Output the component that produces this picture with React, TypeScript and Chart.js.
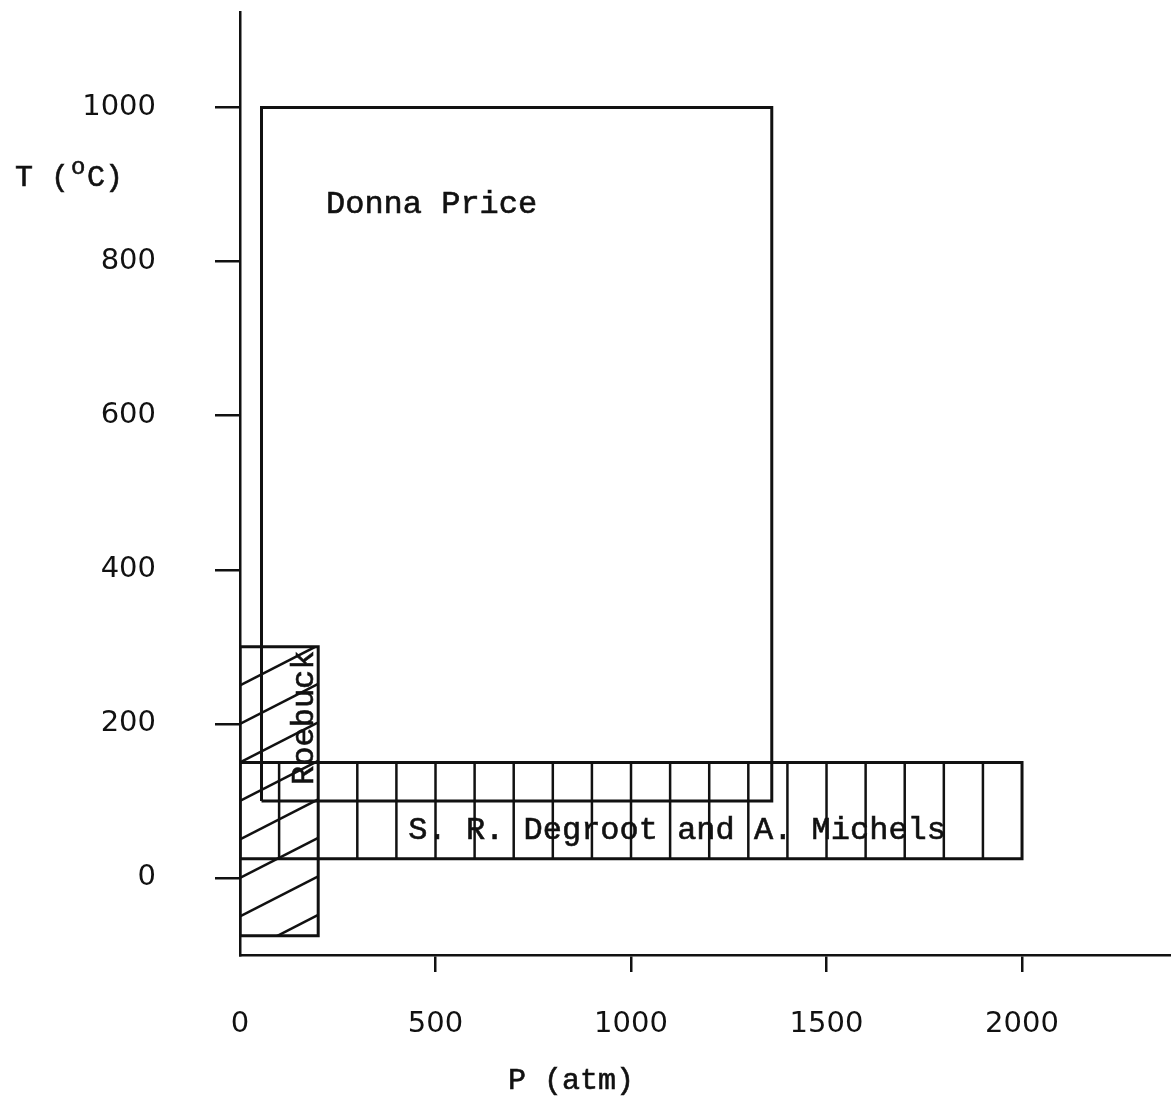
import React, { useEffect, useRef } from "react";
import { Chart, registerables } from "chart.js";

Chart.register(...registerables);

// ---- data ----
const pressureTicks = [0, 500, 1000, 1500, 2000]; // atm
const temperatureTicks = [0, 200, 400, 600, 800, 1000]; // °C

const studyNames = ["Donna Price", "Roebuck", "S. R. Degroot and A. Michels"];
const studyPMin = [55, 0, 0];
const studyPMax = [1360, 200, 2000];
const studyTMin = [100, -75, 25];
const studyTMax = [1000, 300, 150];

const labelP = [490, 166, 1118];
const labelT = [874, 208, 62];
const labelRotation = [0, -90, 0];

// vertical hatch lines of the Degroot & Michels range (atm)
const degrootHatchP = [100, 300, 400, 500, 600, 700, 800, 900, 1000, 1100, 1200, 1300, 1400, 1500, 1600, 1700, 1800, 1900];
// diagonal hatch lines of the Roebuck range: temperature at P = 0 and at P = 200
const roebuckHatchStartT = [250, 200, 150, 100, 50, 0, -50, -100];
const roebuckHatchEndT = [302, 252, 202, 152, 102, 52, 2, -48];

const INK = "#111";
const MONO = "'Liberation Mono', 'DejaVu Sans Mono', monospace";
const SANS = "'DejaVu Sans', sans-serif";

function boxPoints(i: number) {
  return [
    { x: studyPMin[i], y: studyTMin[i] },
    { x: studyPMax[i], y: studyTMin[i] },
    { x: studyPMax[i], y: studyTMax[i] },
    { x: studyPMin[i], y: studyTMax[i] },
    { x: studyPMin[i], y: studyTMin[i] },
  ];
}

function typeText(ctx: CanvasRenderingContext2D, s: string, x: number, y: number) {
  ctx.fillText(s, x, y);
  ctx.strokeText(s, x, y);
}

const overlayPlugin = {
  id: "overlay",
  afterDatasetsDraw(chart: any) {
    const { ctx, scales } = chart;
    const xs = scales.x;
    const ys = scales.y;
    ctx.save();
    ctx.strokeStyle = INK;
    ctx.lineWidth = 2.5;
    // Degroot vertical hatch
    const dg = 2;
    degrootHatchP.forEach((p) => {
      const x = xs.getPixelForValue(p);
      ctx.beginPath();
      ctx.moveTo(x, ys.getPixelForValue(studyTMin[dg]));
      ctx.lineTo(x, ys.getPixelForValue(studyTMax[dg]));
      ctx.stroke();
    });
    // Roebuck diagonal hatch (clipped to its box)
    const rb = 1;
    const l = xs.getPixelForValue(studyPMin[rb]);
    const r = xs.getPixelForValue(studyPMax[rb]);
    const t = ys.getPixelForValue(studyTMax[rb]);
    const b = ys.getPixelForValue(studyTMin[rb]);
    ctx.save();
    ctx.beginPath();
    ctx.rect(l, t, r - l, b - t);
    ctx.clip();
    roebuckHatchStartT.forEach((t0, k) => {
      ctx.beginPath();
      ctx.moveTo(xs.getPixelForValue(studyPMin[rb]), ys.getPixelForValue(t0));
      ctx.lineTo(xs.getPixelForValue(studyPMax[rb]), ys.getPixelForValue(roebuckHatchEndT[k]));
      ctx.stroke();
    });
    ctx.restore();

    // study labels
    ctx.fillStyle = INK;
    ctx.lineWidth = 0.6;
    ctx.font = `32px ${MONO}`;
    ctx.textAlign = "center";
    ctx.textBaseline = "middle";
    studyNames.forEach((name, i) => {
      const x = xs.getPixelForValue(labelP[i]);
      const y = ys.getPixelForValue(labelT[i]);
      ctx.save();
      ctx.translate(x, y);
      ctx.rotate((labelRotation[i] * Math.PI) / 180);
      typeText(ctx, name, 0, 0);
      ctx.restore();
    });

    // axis titles
    ctx.font = `30px ${MONO}`;
    ctx.textAlign = "left";
    ctx.textBaseline = "middle";
    const adv = 18;
    const tx = 15;
    const ty = 178;
    typeText(ctx, "T (", tx, ty);
    ctx.font = `24px ${MONO}`;
    typeText(ctx, "o", tx + 3 * adv + 2, ty - 10);
    ctx.font = `30px ${MONO}`;
    typeText(ctx, "C)", tx + 4 * adv, ty);
    ctx.textAlign = "center";
    typeText(ctx, "P (atm)", 571, 1081);
    ctx.restore();
  },
};

export default function App() {
  const ref = useRef<HTMLCanvasElement | null>(null);
  useEffect(() => {
    document.body.style.margin = "0";
    document.body.style.overflow = "hidden";
    const canvas = ref.current;
    if (!canvas) return;
    const datasets = studyNames.map((name, i) => ({
      label: name,
      data: boxPoints(i),
      showLine: true,
      borderColor: INK,
      borderWidth: 3,
      pointRadius: 0,
      fill: false,
      tension: 0,
    }));
    const chart = new Chart(canvas, {
      type: "scatter",
      data: { datasets },
      plugins: [overlayPlugin],
      options: {
        animation: false,
        responsive: true,
        maintainAspectRatio: false,
        layout: { padding: { top: 12, right: 0, left: 0, bottom: 0 } },
        plugins: { legend: { display: false }, tooltip: { enabled: false } },
        scales: {
          x: {
            type: "linear",
            min: 0,
            max: 2381,
            afterBuildTicks: (s: any) => {
              s.ticks = pressureTicks.map((v) => ({ value: v }));
            },
            afterFit: (s: any) => {
              s.height = 148;
              s.paddingLeft = 0;
              s.paddingRight = 0;
            },
            grid: {
              drawOnChartArea: false,
              drawTicks: true,
              tickLength: 17,
              lineWidth: 2.5,
              color: (c: any) => (c.tick && c.tick.value === 0 ? "rgba(0,0,0,0)" : INK),
              tickColor: (c: any) => (c.tick && c.tick.value === 0 ? "rgba(0,0,0,0)" : INK),
            },
            border: { display: true, color: INK, width: 2.5 },
            ticks: {
              color: INK,
              font: { family: SANS, size: 29 },
              padding: 35,
              maxRotation: 0,
              autoSkip: false,
              callback: (v: any) => String(v),
            },
          },
          y: {
            type: "linear",
            min: -100,
            max: 1124,
            afterBuildTicks: (s: any) => {
              s.ticks = temperatureTicks.map((v) => ({ value: v }));
            },
            afterFit: (s: any) => {
              s.width = 240;
              s.paddingTop = 0;
              s.paddingBottom = 0;
            },
            grid: {
              drawOnChartArea: false,
              drawTicks: true,
              tickLength: 25,
              lineWidth: 2.5,
              color: INK,
              tickColor: INK,
            },
            border: { display: true, color: INK, width: 2.5 },
            ticks: {
              color: INK,
              font: { family: SANS, size: 29 },
              padding: 59,
              autoSkip: false,
              callback: (v: any) => String(v),
            },
          },
        },
      },
    } as any);
    return () => chart.destroy();
  }, []);
  return (
    <div style={{ width: "1171px", height: "1103px", position: "relative", background: "#fff" }}>
      <canvas ref={ref} />
    </div>
  );
}
